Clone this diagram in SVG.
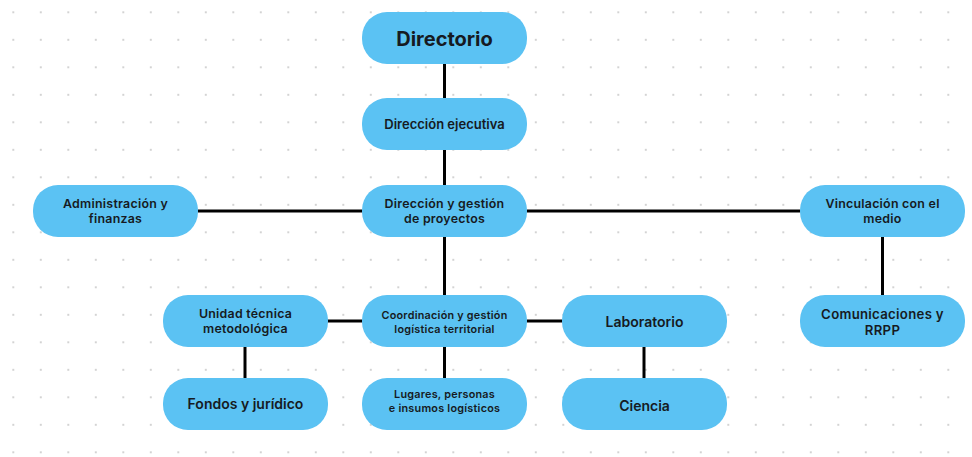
<svg xmlns="http://www.w3.org/2000/svg" width="972" height="457" viewBox="0 0 972 457">
<defs>
<pattern id="dots" x="13.3" y="12.3" width="27.5" height="27.5" patternUnits="userSpaceOnUse">
<circle cx="0" cy="0" r="1" fill="#c4c4c4"/>
<circle cx="27.5" cy="0" r="1" fill="#c4c4c4"/>
<circle cx="0" cy="27.5" r="1" fill="#c4c4c4"/>
<circle cx="27.5" cy="27.5" r="1" fill="#c4c4c4"/>
</pattern>
<style>
.box{fill:#5BC2F3;}
.t{font-family:Inter,"Noto Sans","DejaVu Sans",sans-serif;font-weight:600;fill:#161a22;text-anchor:middle;font-size:13px;}
.two{font-size:12.4px;letter-spacing:0.25px;}
.big{font-size:20px;font-weight:700;}
.sm{font-size:10.8px;letter-spacing:0.25px;}
.md{font-size:14px;}
.md2{font-size:13.2px;letter-spacing:0.3px;}
.c{stroke:#000;stroke-width:3;fill:none;}
</style>
</defs>
<rect width="972" height="457" fill="#fff"/>
<rect width="972" height="457" fill="url(#dots)"/>
<g id="connectors" class="c">
<line x1="444.5" y1="64" x2="444.5" y2="98"/>
<line x1="444.5" y1="150" x2="444.5" y2="185"/>
<line x1="198" y1="211" x2="362" y2="211"/>
<line x1="527" y1="211" x2="800" y2="211"/>
<line x1="444.5" y1="237" x2="444.5" y2="295"/>
<line x1="327" y1="321" x2="362" y2="321"/>
<line x1="527" y1="321" x2="562" y2="321"/>
<line x1="245" y1="347" x2="245" y2="378"/>
<line x1="444.5" y1="347" x2="444.5" y2="378"/>
<line x1="644" y1="347" x2="644" y2="378"/>
<line x1="882.5" y1="237" x2="882.5" y2="295"/>
</g>
<g id="directorio"><rect class="box" x="362" y="12" width="165" height="52" rx="25"/><text class="t big" x="444.5" y="46">Directorio</text></g>
<g id="direccion-ejecutiva"><rect class="box" x="362" y="98" width="165" height="52" rx="25"/><text class="t" x="444.5" y="129">Dirección ejecutiva</text></g>
<g id="direccion-gestion"><rect class="box" x="362" y="185" width="165" height="52" rx="25"/><text class="t two" x="444.5" y="207.8">Dirección y gestión<tspan x="444.5" dy="15">de proyectos</tspan></text></g>
<g id="administracion"><rect class="box" x="33" y="185" width="165" height="52" rx="25"/><text class="t two" x="115.5" y="207.5">Administración y<tspan x="115.5" dy="15">finanzas</tspan></text></g>
<g id="vinculacion"><rect class="box" x="800" y="185" width="165" height="52" rx="25"/><text class="t two" x="882.5" y="207.6">Vinculación con el<tspan x="882.5" dy="15">medio</tspan></text></g>
<g id="unidad-tecnica"><rect class="box" x="163" y="295" width="165" height="52" rx="25"/><text class="t two" x="245.5" y="318.3">Unidad técnica<tspan x="245.5" dy="15">metodológica</tspan></text></g>
<g id="coordinacion"><rect class="box" x="362" y="295" width="165" height="52" rx="25"/><text class="t sm" x="444.5" y="319.4">Coordinación y gestión<tspan x="444.5" dy="13.2">logística territorial</tspan></text></g>
<g id="laboratorio"><rect class="box" x="562" y="295" width="165" height="52" rx="25"/><text class="t md" x="644.5" y="326.5">Laboratorio</text></g>
<g id="comunicaciones"><rect class="box" x="800" y="295" width="165" height="52" rx="25"/><text class="t md2" x="882.5" y="319.2">Comunicaciones y<tspan x="882.5" dy="16">RRPP</tspan></text></g>
<g id="fondos"><rect class="box" x="163" y="378" width="165" height="52" rx="25"/><text class="t md" x="245.5" y="408.5">Fondos y jurídico</text></g>
<g id="lugares"><rect class="box" x="362" y="378" width="165" height="52" rx="25"/><text class="t sm" x="444.5" y="398.4">Lugares, personas<tspan x="444.5" dy="13.2">e insumos logísticos</tspan></text></g>
<g id="ciencia"><rect class="box" x="562" y="378" width="165" height="52" rx="25"/><text class="t md" x="644.5" y="410.5">Ciencia</text></g>
</svg>
